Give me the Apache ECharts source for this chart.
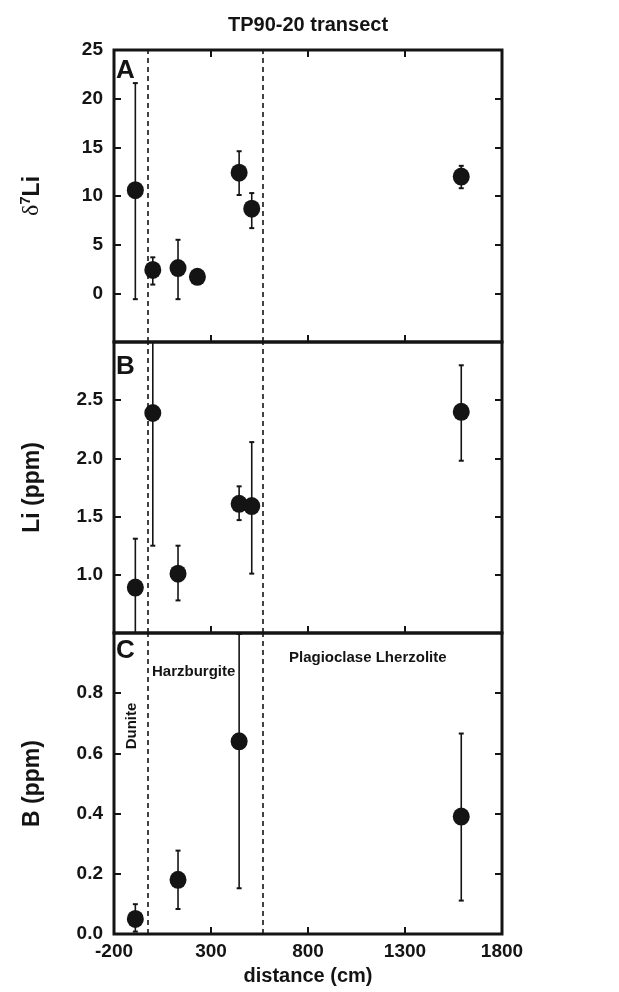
<!DOCTYPE html>
<html>
<head>
<meta charset="utf-8">
<script src="https://cdn.jsdelivr.net/npm/echarts@6/dist/echarts.min.js"></script>
<style>
  html, body { margin: 0; padding: 0; background: #fff; }
  #chart { width: 619px; height: 992px; }
</style>
</head>
<body>
<div id="chart"></div>
<script>
// Panel A: lithium isotopes along the transect (distance in cm)
const distLi7  = [-90, 0, 130, 230, 445, 510, 1590];
const d7Li     = [10.6, 2.4, 2.6, 1.7, 12.4, 8.7, 12.0];
const d7LiLow  = [-0.6, 0.9, -0.6, 1.4, 10.1, 6.7, 10.8];
const d7LiHigh = [21.6, 3.7, 5.5, 2.0, 14.6, 10.3, 13.1];

// Panel B: Li concentration (ppm)
const distLi = [-90, 0, 130, 445, 510, 1590];
const liPpm  = [0.89, 2.39, 1.01, 1.61, 1.59, 2.40];
const liLow  = [0.45, 1.25, 0.78, 1.47, 1.01, 1.98];
const liHigh = [1.31, 3.6, 1.25, 1.76, 2.14, 2.80];

// Panel C: B concentration (ppm)
const distB = [-90, 130, 445, 1590];
const bPpm  = [0.05, 0.18, 0.64, 0.39];
const bLow  = [0.008, 0.083, 0.152, 0.111];
const bHigh = [0.099, 0.277, 0.997, 0.666];

// Lithology boundaries (Dunite | Harzburgite | Plagioclase Lherzolite)
const zoneBounds = [-25, 565];
const xTicks = [-200, 300, 800, 1300, 1800];

const FONT = '"Liberation Sans", Arial, Helvetica, sans-serif';
const INK = '#141414';

const zip = (xs, ys) => xs.map((x, i) => [x, ys[i]]);
const zip3 = (xs, a, b) => xs.map((x, i) => [x, a[i], b[i]]);

function errorBars(params, api) {
  const x = api.value(0);
  const lo = api.coord([x, api.value(1)]);
  const hi = api.coord([x, api.value(2)]);
  const cs = params.coordSys;
  const top = cs.y, bottom = cs.y + cs.height;
  const px = lo[0];
  const yHi = Math.max(hi[1], top);
  const yLo = Math.min(lo[1], bottom);
  const cap = 2.5;
  const children = [{
    type: 'line',
    shape: { x1: px, y1: yHi, x2: px, y2: yLo },
    style: { stroke: INK, lineWidth: 1.6 }
  }];
  if (hi[1] >= top) children.push({
    type: 'line',
    shape: { x1: px - cap, y1: hi[1], x2: px + cap, y2: hi[1] },
    style: { stroke: INK, lineWidth: 2 }
  });
  if (lo[1] <= bottom) children.push({
    type: 'line',
    shape: { x1: px - cap, y1: lo[1], x2: px + cap, y2: lo[1] },
    style: { stroke: INK, lineWidth: 2 }
  });
  return { type: 'group', children };
}

const gridBase = { left: 114, width: 388, show: true, borderColor: INK, borderWidth: 3, backgroundColor: 'transparent' };
const grids = [
  Object.assign({ top: 50, height: 292 }, gridBase),
  Object.assign({ top: 342, height: 291 }, gridBase),
  Object.assign({ top: 633, height: 301 }, gridBase)
];

const tickLabel = { color: INK, fontFamily: FONT, fontWeight: 'bold', fontSize: 19 };

function xAxisFor(gridIndex, position, showLabels) {
  return {
    type: 'value', gridIndex, position, min: -200, max: 1800,
    axisLine: { show: false, onZero: false },
    splitLine: { show: false },
    axisTick: { show: true, inside: true, length: 7, customValues: xTicks, lineStyle: { color: INK, width: 2 } },
    axisLabel: Object.assign({ show: showLabels, margin: 8, customValues: xTicks, formatter: v => String(v) }, tickLabel),
    name: showLabels ? 'distance (cm)' : '',
    nameLocation: 'middle',
    nameGap: 32,
    nameTextStyle: { color: INK, fontFamily: FONT, fontWeight: 'bold', fontSize: 20 }
  };
}

function yAxisFor(gridIndex, position, min, max, interval, fmt, name, nameStyle, showMin, showMax) {
  const left = position === 'left';
  return {
    type: 'value', gridIndex, position, min, max, interval,
    axisLine: { show: false, onZero: false },
    splitLine: { show: false },
    axisTick: { show: true, inside: true, length: 7, lineStyle: { color: INK, width: 2 } },
    axisLabel: Object.assign({ show: left, margin: 11, formatter: fmt, showMinLabel: showMin, showMaxLabel: showMax }, tickLabel),
    name: left ? name : '',
    nameLocation: 'middle',
    nameGap: 70,
    nameTextStyle: nameStyle
  };
}

const nameStyle = { color: INK, fontFamily: FONT, fontWeight: 'bold', fontSize: 23 };
const d7Style = {
  color: INK,
  rich: {
    d: { fontFamily: '"Liberation Serif", "DejaVu Serif", serif', fontSize: 24, color: INK, lineHeight: 26, verticalAlign: 'bottom' },
    s: { fontFamily: FONT, fontWeight: 'bold', fontSize: 15, color: INK, lineHeight: 26, verticalAlign: 'top' },
    l: { fontFamily: FONT, fontWeight: 'bold', fontSize: 23, color: INK, lineHeight: 26, verticalAlign: 'bottom' }
  }
};

const fmtA = v => String(v);
const fmtDec = v => v.toFixed(1);

const option = {
  backgroundColor: '#fff',
  animation: false,
  grid: grids,
  xAxis: [
    xAxisFor(0, 'bottom', false),
    xAxisFor(1, 'bottom', false),
    xAxisFor(2, 'bottom', true),
    xAxisFor(0, 'top', false)
  ],
  yAxis: [
    yAxisFor(0, 'left', -5, 25, 5, fmtA, '{d|δ}{s|7}{l|Li}', d7Style, false, true),
    yAxisFor(0, 'right', -5, 25, 5, fmtA, '', nameStyle, false, true),
    yAxisFor(1, 'left', 0.5, 3.0, 0.5, fmtDec, 'Li (ppm)', nameStyle, false, false),
    yAxisFor(1, 'right', 0.5, 3.0, 0.5, fmtDec, '', nameStyle, false, false),
    yAxisFor(2, 'left', 0, 1.0, 0.2, fmtDec, 'B (ppm)', nameStyle, true, false),
    yAxisFor(2, 'right', 0, 1.0, 0.2, fmtDec, '', nameStyle, true, false)
  ],
  series: [],
  graphic: [
    { type: 'text', x: 308, y: 25, style: { text: 'TP90-20 transect', fill: INK, font: 'bold 20px ' + FONT, textAlign: 'center', textVerticalAlign: 'middle' } },
    { type: 'text', x: 116, y: 71, style: { text: 'A', fill: INK, font: 'bold 26px ' + FONT, textAlign: 'left', textVerticalAlign: 'middle' } },
    { type: 'text', x: 116, y: 367, style: { text: 'B', fill: INK, font: 'bold 26px ' + FONT, textAlign: 'left', textVerticalAlign: 'middle' } },
    { type: 'text', x: 116, y: 651, style: { text: 'C', fill: INK, font: 'bold 26px ' + FONT, textAlign: 'left', textVerticalAlign: 'middle' } },
    { type: 'text', x: 152, y: 672, style: { text: 'Harzburgite', fill: INK, font: 'bold 15px ' + FONT, textAlign: 'left', textVerticalAlign: 'middle' } },
    { type: 'text', x: 289, y: 658, style: { text: 'Plagioclase Lherzolite', fill: INK, font: 'bold 15px ' + FONT, textAlign: 'left', textVerticalAlign: 'middle' } },
    { type: 'text', x: 132, y: 726, rotation: Math.PI / 2, style: { text: 'Dunite', fill: INK, font: 'bold 15px ' + FONT, textAlign: 'center', textVerticalAlign: 'middle' } }
  ]
};

const panels = [
  { xi: 0, yi: 0, pts: zip(distLi7, d7Li), err: zip3(distLi7, d7LiLow, d7LiHigh) },
  { xi: 1, yi: 2, pts: zip(distLi, liPpm), err: zip3(distLi, liLow, liHigh) },
  { xi: 2, yi: 4, pts: zip(distB, bPpm), err: zip3(distB, bLow, bHigh) }
];

panels.forEach(p => {
  option.series.push({
    type: 'custom', xAxisIndex: p.xi, yAxisIndex: p.yi,
    renderItem: errorBars, data: p.err, z: 3, silent: true,
    encode: { x: 0, y: [1, 2] }
  });
  option.series.push({
    type: 'scatter', xAxisIndex: p.xi, yAxisIndex: p.yi,
    data: p.pts, symbol: 'circle', symbolSize: [17, 18], z: 4,
    itemStyle: { color: INK, opacity: 1 },
    markLine: {
      silent: true, symbol: 'none', label: { show: false }, z: 1,
      lineStyle: { color: INK, type: [5, 4], width: 1.6 },
      data: zoneBounds.map(v => ({ xAxis: v }))
    }
  });
});

const chart = echarts.init(document.getElementById('chart'), null, { renderer: 'canvas' });
chart.setOption(option);
</script>
</body>
</html>
